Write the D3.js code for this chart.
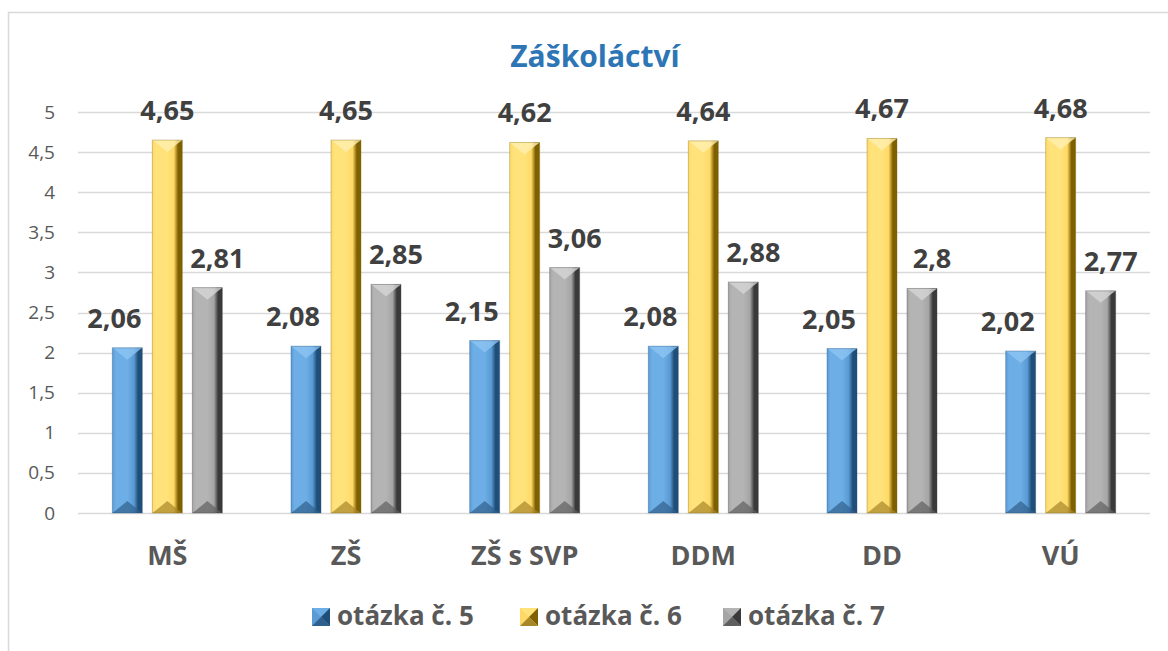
<!DOCTYPE html>
<html><head><meta charset="utf-8">
<script src="https://cdn.jsdelivr.net/npm/d3@7"></script>
<style>body{margin:0;background:#fff}svg{display:block}text{font-family:"Open Sans",sans-serif}</style>
</head><body><svg id="c" width="1168" height="651"></svg>
<script>
const categories = ["MŠ","ZŠ","ZŠ s SVP","DDM","DD","VÚ"];
const seriesNames = ["otázka č. 5","otázka č. 6","otázka č. 7"];
const q5 = [2.06,2.08,2.15,2.08,2.05,2.02];
const q6 = [4.65,4.65,4.62,4.64,4.67,4.68];
const q7 = [2.81,2.85,3.06,2.88,2.8,2.77];
const yTicks = [0,0.5,1,1.5,2,2.5,3,3.5,4,4.5,5];
const title = "Záškoláctví";

const seriesValues = [q5,q6,q7];
const labelShift = [-13, 0, 10];
const palette = [
  {light:"#6eaee6", mid:"#5b9bd5", dark:"#1f4e79", top:"#8cc4f2", bot:"#2f5f8c"},
  {light:"#ffe27a", mid:"#ffd966", dark:"#7f6000", top:"#fff0b0", bot:"#a8862a"},
  {light:"#b4b4b4", mid:"#a5a5a5", dark:"#3a3a3a", top:"#d6d6d6", bot:"#5f5f5f"}
];
const fmt = v => String(v).replace(".", ",");

const svg = d3.select("#c");
const defs = svg.append("defs");
palette.forEach((p,i)=>{
  const g = defs.append("linearGradient").attr("id","g"+i).attr("x1","0").attr("x2","1").attr("y1","0").attr("y2","0");
  [[0,p.mid],[0.12,p.light],[0.5,p.light],[0.72,p.mid],[0.86,p.dark],[1,p.dark]].forEach(s=>g.append("stop").attr("offset",s[0]).attr("stop-color",s[1]));
});

// border
svg.append("rect").attr("x",8.5).attr("y",12.5).attr("width",1180).attr("height",660).attr("fill","#fff").attr("stroke","#d9d9d9").attr("stroke-width",1.5);

const y = d3.scaleLinear().domain([0,5]).range([513,112]);
const x = d3.scaleBand().domain(categories).range([78,1150]);
const x1 = d3.scaleBand().domain(seriesNames).range([-55,55]).paddingInner(0.25);

// grid
svg.append("g").selectAll("line").data(yTicks).join("line")
  .attr("x1",78).attr("x2",1150).attr("y1",d=>Math.round(y(d))+0.5).attr("y2",d=>Math.round(y(d))+0.5)
  .attr("stroke","#d9d9d9").attr("stroke-width",1.5);

// y axis labels
const yAxis = d3.axisLeft(y).tickValues(yTicks).tickFormat(fmt).tickSize(0).tickPadding(0);
const ga = svg.append("g").attr("transform","translate(55,0)").call(yAxis);
ga.select(".domain").remove();
ga.selectAll("text").attr("fill","#595959").style("font-size","19px").style("font-family","'Open Sans',sans-serif");

// x axis labels
const xAxis = d3.axisBottom(x).tickSize(0).tickPadding(0);
const gx = svg.append("g").attr("transform","translate(0,565)").call(xAxis);
gx.select(".domain").remove();
gx.selectAll("text").attr("dy",0).attr("fill","#595959").style("font-size","27px").style("font-weight","bold").style("font-family","'Open Sans',sans-serif");

// bars
const bw = x1.bandwidth();
const bev = 12;
seriesValues.forEach((vals,si)=>{
  const p = palette[si];
  const g = svg.append("g");
  vals.forEach((v,ci)=>{
    const x0 = x(categories[ci]) + x.bandwidth()/2 + x1(seriesNames[si]);
    const xR = x0 + bw, cx = x0 + bw/2;
    const top = y(v), bot = y(0);
    g.append("rect").attr("x",x0).attr("y",top).attr("width",bw).attr("height",bot-top).attr("fill","url(#g"+si+")");
    g.append("path").attr("d",`M${x0},${top}L${xR},${top}L${xR-4},${top+3}L${cx},${top+bev}L${x0+4},${top+3}Z`).attr("fill",p.top).attr("opacity",0.8);
    g.append("path").attr("d",`M${x0},${bot}L${xR},${bot}L${xR-4},${bot-3}L${cx},${bot-bev}L${x0+4},${bot-3}Z`).attr("fill",p.bot).attr("opacity",0.7);
    g.append("rect").attr("x",x0).attr("y",top).attr("width",bw).attr("height",bot-top).attr("fill","none").attr("stroke",p.dark).attr("stroke-opacity",0.35).attr("stroke-width",1);
    svg.append("text").attr("x",cx + labelShift[si]).attr("y",top-20).attr("text-anchor","middle")
      .attr("fill","#404040").style("font-size","27px").style("font-weight","bold").text(fmt(v));
  });
});

// title
svg.append("text").attr("x",595).attr("y",67).attr("text-anchor","middle").attr("fill","#2e75b6")
  .style("font-size","30px").style("font-weight","bold").text(title);

// legend
const legX = [312,520,723];
seriesNames.forEach((n,i)=>{
  const p = palette[i];
  const lx = legX[i], ly = 608, s = 18;
  svg.append("rect").attr("x",lx).attr("y",ly).attr("width",s).attr("height",s).attr("fill",p.mid);
  svg.append("path").attr("d",`M${lx},${ly}L${lx+s},${ly}L${lx+s/2},${ly+s/2}Z`).attr("fill",p.light);
  svg.append("path").attr("d",`M${lx+s},${ly}L${lx+s},${ly+s}L${lx+s/2},${ly+s/2}Z`).attr("fill",p.dark);
  svg.append("path").attr("d",`M${lx},${ly+s}L${lx+s},${ly+s}L${lx+s/2},${ly+s/2}Z`).attr("fill",p.bot);
  svg.append("text").attr("x",lx+25).attr("y",625).attr("fill","#595959")
    .style("font-size","26px").style("font-weight","bold").text(n);
});
</script></body></html>
